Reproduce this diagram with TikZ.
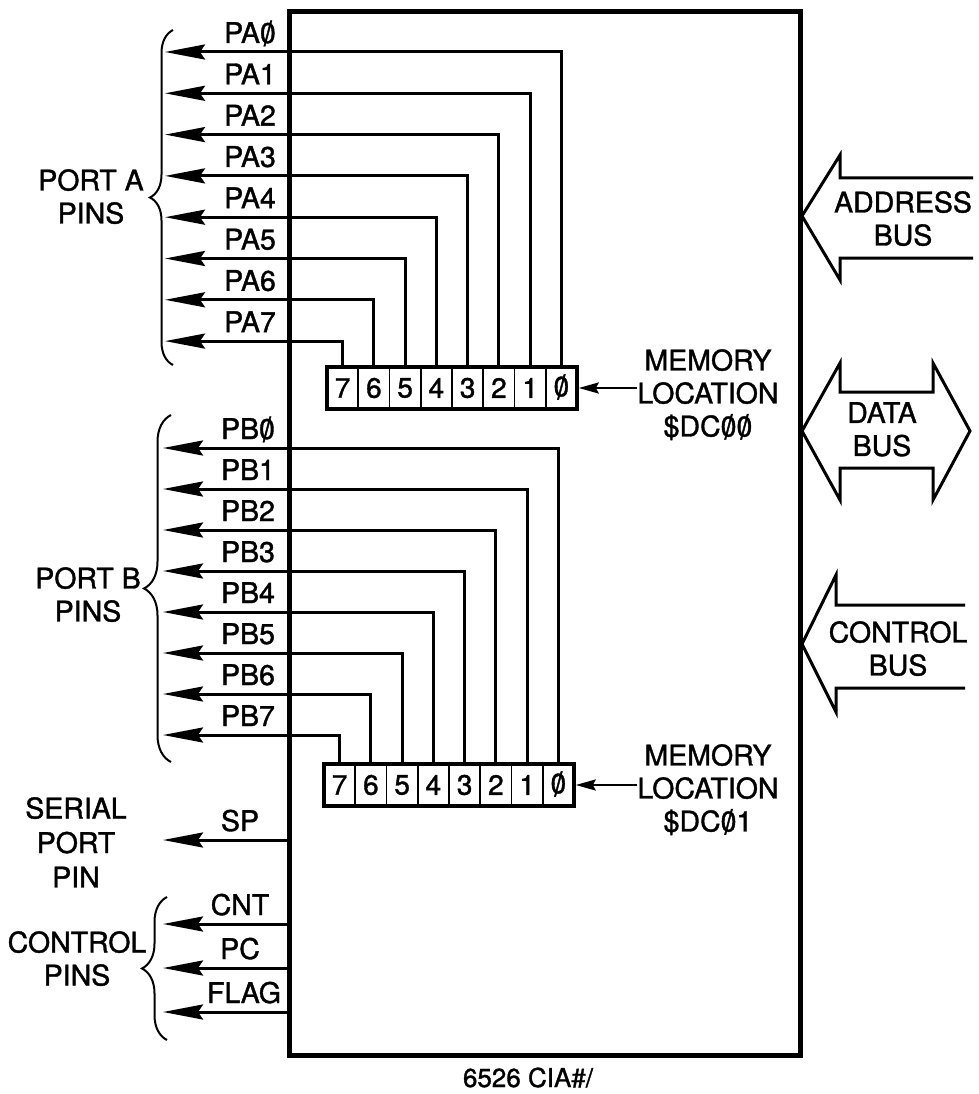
\documentclass[tikz,border=0pt]{standalone}
\usepackage{fontspec}
\usepackage{graphicx}
\setmainfont{TeX Gyre Heros}[FakeBold=1.3]
\usetikzlibrary{arrows.meta,decorations.pathreplacing}
\newcommand\zsl{\ooalign{0\cr\hidewidth\raisebox{-0.09em}{\scalebox{1}[1.2]{/}}\hidewidth\cr}}
\begin{document}
\begin{tikzpicture}[x=1pt,y=-1pt,
 txt/.style={font=\fontsize{28.5}{33}\selectfont, inner sep=0pt, align=center},
 lbl/.style={font=\fontsize{28.5}{33}\selectfont, inner sep=0pt, anchor=base},
 pin/.style={line width=3pt, -{Stealth[length=40pt,width=15pt,inset=5pt]}},
 cell/.style={draw, line width=1.8pt, minimum width=31.25pt, minimum height=42pt, inner sep=0pt, font=\fontsize{28}{30}\selectfont},
 reg/.style={draw, line width=3.5pt, minimum width=250pt, minimum height=42pt, inner sep=0pt},
 memarrow/.style={line width=2.5pt, -{Stealth[length=20pt,width=11pt,inset=3pt]}},
 pbrace/.style={line width=2pt, decorate, decoration={brace, amplitude=#1}},
 bus/.style={line width=3pt, line join=miter},
]
\useasboundingbox (0,0) rectangle (978,1094);

% main chip box
\node[draw, line width=5pt, minimum width=511pt, minimum height=1043pt, inner sep=0pt] (cia) at (544.5,533.5) {};

% Port A register
\foreach \k in {0,...,7} {
  \node[cell] (a\k) at ({561.4-31.25*\k},388) {\ifnum\k=0 \zsl\else\k\fi};
}
\node[reg] (rega) at (452,388) {};
\foreach \k/\y in {0/52,1/93.3,2/134.6,3/175.9,4/217.2,5/258.5,6/299.8,7/341.1} {
  \coordinate (pa\k) at (165,\y);
  \draw[pin] (a\k.north) |- (pa\k);
  \node[lbl] (lpa\k) at (250,{\y-9}) {PA\ifnum\k=0 \zsl\else\k\fi};
}

% Port B register
\foreach \k in {0,...,7} {
  \node[cell] (b\k) at ({558.4-31.25*\k},785) {\ifnum\k=0 \zsl\else\k\fi};
}
\node[reg] (regb) at (449,785) {};
\foreach \k/\y in {0/448,1/489,2/530,3/571,4/612,5/653,6/694,7/735} {
  \coordinate (pb\k) at (163,\y);
  \draw[pin] (b\k.north) |- (pb\k);
  \node[lbl] (lpb\k) at (248,{\y-9}) {PB\ifnum\k=0 \zsl\else\k\fi};
}

% memory location labels
\node[txt, anchor=north] (mema) at (708,349) {MEMORY\\LOCATION\\\$DC\zsl\zsl};
\draw[memarrow] (rega.east -| mema.west) -- (rega.east);
\node[txt, anchor=north] (memb) at (708,744) {MEMORY\\LOCATION\\\$DC\zsl 1};
\draw[memarrow] (regb.east -| memb.west) -- (regb.east);

% serial and control pins
\coordinate (sp) at (163,840);
\coordinate (cnt) at (163,924);
\coordinate (pc) at (163,968);
\coordinate (flag) at (163,1012);
\draw[pin] (cia.west |- sp) -- (sp);
\draw[pin] (cia.west |- cnt) -- (cnt);
\draw[pin] (cia.west |- pc) -- (pc);
\draw[pin] (cia.west |- flag) -- (flag);
\node[lbl] (lsp) at (240,831) {SP};
\node[lbl] (lcnt) at (240,915) {CNT};
\node[lbl] (lpc) at (240,959) {PC};
\node[lbl] (lflag) at (244,1003) {FLAG};

% braces and group labels
\draw[pbrace=23] (173,365) -- (173,30);
\draw[pbrace=27] (171,762) -- (171,415);
\draw[pbrace=25] (167,1040) -- (167,897);
\node[txt, anchor=north] (porta) at (91,169) {PORT A\\PINS};
\node[txt, anchor=north] (portb) at (88,567) {PORT B\\PINS};
\node[txt, anchor=north, font=\fontsize{28.5}{34.5}\selectfont] (serial) at (76,797) {SERIAL\\PORT\\PIN};
\node[txt, anchor=north] (ctlp) at (77,931) {CONTROL\\PINS};

% buses
\draw[bus] (973,178) -- (840,178) -- (840,155) -- (802,216) -- (840,280) -- (840,258) -- (973,258);
\node[txt, anchor=north] (addr) at (903,191) {ADDRESS\\BUS};
\draw[bus] (802,431) -- (840,363) -- (840,392) -- (933,392) -- (933,363) -- (970,431) -- (933,500) -- (933,468) -- (840,468) -- (840,500) -- cycle;
\node[txt, anchor=north] (data) at (882,402) {DATA\\BUS};
\draw[bus] (965,605) -- (836,605) -- (836,575) -- (802,644) -- (836,712) -- (836,688) -- (965,688);
\node[txt, anchor=north] (ctrl) at (898,621) {CONTROL\\BUS};

% caption
\node[txt, anchor=base, font=\fontsize{26}{30}\selectfont] (cap) at (528,1087) {6526 CIA\#/};
\end{tikzpicture}
\end{document}
